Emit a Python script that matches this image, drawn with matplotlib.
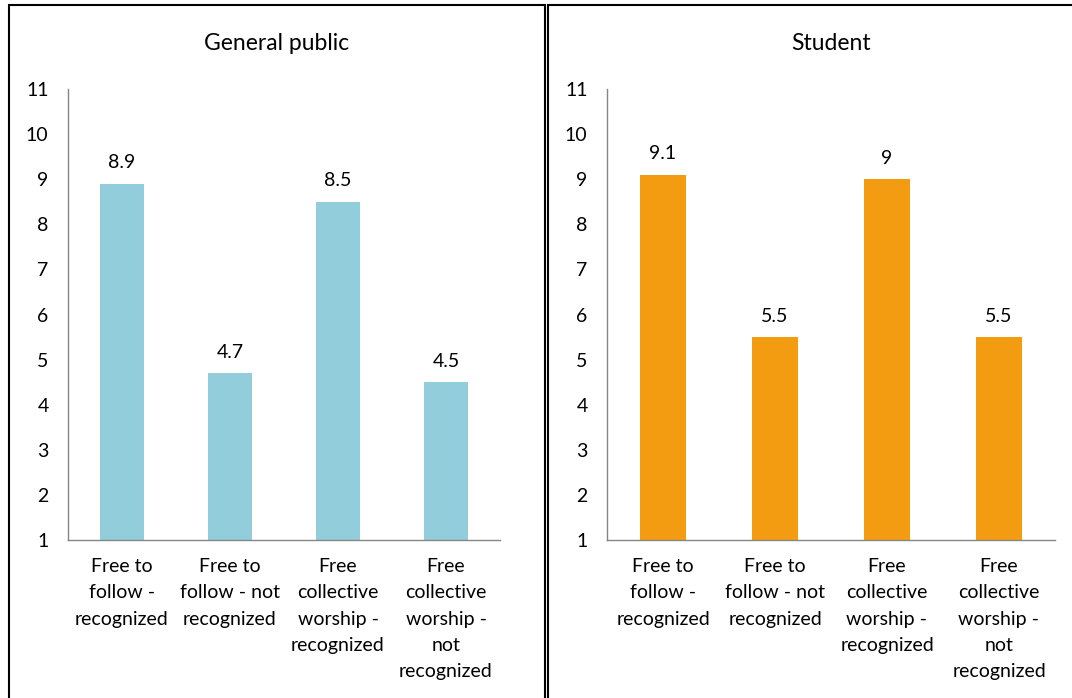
import matplotlib
matplotlib.use('Agg')
import matplotlib.pyplot as plt
from matplotlib.patches import Rectangle

# data
categories = ['Free to\nfollow -\nrecognized', 'Free to\nfollow - not\nrecognized',
              'Free\ncollective\nworship -\nrecognized', 'Free\ncollective\nworship -\nnot\nrecognized']
general_public = [8.9, 4.7, 8.5, 4.5]
student = [9.1, 5.5, 9.0, 5.5]
value_labels_gp = ['8.9', '4.7', '8.5', '4.5']
value_labels_st = ['9.1', '5.5', '9', '5.5']
yticks = list(range(1, 12))

plt.rcParams['font.family'] = ['Lato', 'DejaVu Sans']

W, H = 1072, 698
fig = plt.figure(figsize=(W / 100, H / 100), dpi=100)
FS = 14


def panel(rect_px, axes_px, title, values, labels, color):
    # border of the panel
    x0, y0, x1, y1 = rect_px
    fig.patches.append(Rectangle((x0 / W, 1 - y1 / H), (x1 - x0) / W, (y1 - y0) / H,
                                 transform=fig.transFigure, fill=False,
                                 edgecolor='black', linewidth=1.5))
    ax_l, ax_t, ax_r, ax_b = axes_px
    ax = fig.add_axes([ax_l / W, 1 - ax_b / H, (ax_r - ax_l) / W, (ax_b - ax_t) / H])
    xs = range(len(values))
    bars = ax.bar(xs, [v - 1 for v in values], bottom=1, width=0.41, color=color)
    for b, lab in zip(bars, labels):
        ax.annotate(lab, (b.get_x() + b.get_width() / 2, b.get_y() + b.get_height()),
                    xytext=(0, 9), textcoords='offset points',
                    ha='center', va='bottom', fontsize=FS, color='black')
    ax.set_xlim(-0.5, len(values) - 0.5)
    ax.set_ylim(1, 11)
    ax.set_yticks(yticks)
    ax.set_xticks(list(xs))
    ax.set_xticklabels(categories, fontsize=FS, linespacing=1.66)
    ax.tick_params(axis='y', length=0, pad=14, labelsize=FS)
    ax.tick_params(axis='x', length=0, pad=13)
    for s in ['top', 'right']:
        ax.spines[s].set_visible(False)
    for s in ['left', 'bottom']:
        ax.spines[s].set_color('#868686')
        ax.spines[s].set_linewidth(1)
    cx = (x0 + x1) / 2 if x1 < W else (ax_l + ax_r) / 2
    fig.text(cx / W, 1 - 44 / H, title, ha='center', va='center', fontsize=16.5)
    return ax


panel((9, 5, 545, 710), (68, 89, 500, 540), 'General public', general_public,
      value_labels_gp, '#92CDDC')
panel((548, 5, 1085, 710), (607, 89, 1055, 540), 'Student', student,
      value_labels_st, '#F39C12')

fig.savefig('out.png', dpi=100)
